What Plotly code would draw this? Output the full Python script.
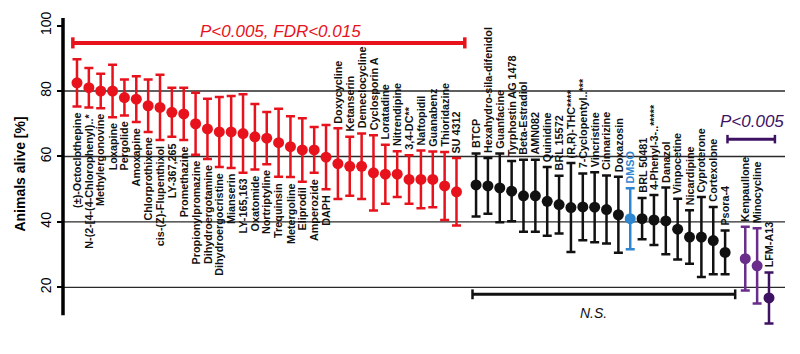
import plotly.graph_objects as go

# ---------------- data ----------------
red_names = ["(±)-Octoclothepine", "N-(2-[4-(4-Chlorophenyl)..*", "Methylergonovine", "Loxapine",
             "Pergolide", "Amoxapine", "Chlorprothixene", "cis-(Z)-Flupenthixol", "LY-367,265",
             "Promethazine", "Propionylpromazine", "Dihydroergotamine", "Dihydroergocristine",
             "Mianserin", "LY-165,163", "Oxatomide", "Nortriptyline", "Trequinsin", "Metergoline",
             "Eliprodil", "Amperozide", "DAPH", "Doxycycline", "Ketanserin", "Demeclocycline",
             "Cyclosporin A", "Loratadine", "Nitrendipine", "3,4-DC**", "Naftopidil", "Guanabenz",
             "Thioridazine", "SU 4312"]
red_means = [82.5, 81, 80, 80, 78, 77.5, 75.5, 75, 73.5, 73, 70, 68.4, 67.5, 67.5, 67, 66, 65.6,
             64.2, 63, 62, 62, 59.8, 57.8, 57, 57, 55, 54.6, 54.6, 53, 53, 53, 51, 49.2]
red_errs = [7.2, 6, 5.3, 8, 5.5, 7, 8, 10, 7.5, 8, 9.5, 9.2, 10.7, 11, 12, 10, 8, 10.4, 9.3, 9.7,
            7, 9.8, 10.8, 9, 10, 11.5, 9, 7, 7.4, 8.8, 8.5, 10.4, 10.3]
red_label_above_from = 22  # labels of red items from this index on sit above the bars

black_names = ["BTCP", "Hexahydro-sila-difenidol", "Guanfacine", "Tyrphostin AG 1478",
               "Beta-Estradiol", "AMN082", "Quinidine", "BRL 15572", "(R,R)-THC****",
               "7-Cyclopentyl..***", "Vincristine", "Cinnarizine", "Doxazosin", "DMSO",
               "BRL 50481", "4-Phenyl-3-..*****", "Danazol", "Vinpocetine", "Nicardipine",
               "Cyproterone", "Cortexolone", "Psora-4"]
black_means = [51.3, 51, 50.4, 49.4, 48, 48, 46.3, 45.3, 44.4, 44.6, 44.5, 43.8, 42.2, 41,
               41, 40.6, 40.3, 37.8, 35.4, 35.4, 34.3, 30.7]
black_errs = [9.6, 8.5, 10.5, 9.2, 11, 11, 10.5, 8.8, 13.6, 10.2, 10.7, 10.4, 11.6, 9.3,
              6.3, 7.6, 10.2, 9.3, 8.2, 12.2, 10.3, 6.7]
control_name = "DMSO"

purple_names = ["Kenpaullone", "Minocycline", "LFM-A13"]
purple_means = [28.8, 26.6, 16.8]
purple_errs = [9.7, 11.5, 7.8]

y_ticks = [20, 40, 60, 80, 100]
grid_vals = [20, 40, 60, 80]

# ---------------- styling ----------------
RED = "#e8121c"
BLACK = "#111111"
BLUE = "#2f86d0"
PURPLE_L = "#6a2d8c"
PURPLE_D = "#3e1263"
GAP1 = 1.65
GAP2 = 1.7
FONT = "Liberation Sans, Arial"

red_x = list(range(len(red_names)))
black_start = red_x[-1] + GAP1
black_x = [black_start + i for i in range(len(black_names))]
purple_start = black_x[-1] + GAP2
purple_x = [purple_start + i for i in range(len(purple_names))]

fig = go.Figure()


def add_trace(xs, ys, es, color):
    fig.add_trace(go.Scatter(
        x=xs, y=ys, mode="markers",
        marker=dict(size=11, color=color),
        error_y=dict(type="data", array=es, visible=True, color=color, thickness=2.5, width=4.5),
        showlegend=False, hoverinfo="skip"))


add_trace(red_x, red_means, red_errs, RED)
bx = [x for x, n in zip(black_x, black_names) if n != control_name]
bm = [m for m, n in zip(black_means, black_names) if n != control_name]
be = [e for e, n in zip(black_errs, black_names) if n != control_name]
add_trace(bx, bm, be, BLACK)
ci = black_names.index(control_name)
add_trace([black_x[ci]], [black_means[ci]], [black_errs[ci]], BLUE)
add_trace(purple_x[:2], purple_means[:2], purple_errs[:2], PURPLE_L)
add_trace(purple_x[2:], purple_means[2:], purple_errs[2:], PURPLE_D)

annotations = []


def label(x, text, m, e, above, color=BLACK):
    annotations.append(dict(
        x=x, y=(m + e) if above else (m - e), xref="x", yref="y",
        text="<b>%s</b>" % text, textangle=-90, showarrow=False,
        xanchor="center", yanchor="bottom" if above else "top",
        yshift=3 if above else -4, font=dict(family=FONT, size=10.8, color=color)))


for i, (x, n, m, e) in enumerate(zip(red_x, red_names, red_means, red_errs)):
    label(x, n, m, e, i >= red_label_above_from)
for x, n, m, e in zip(black_x, black_names, black_means, black_errs):
    label(x, n, m, e, True, BLUE if n == control_name else BLACK)
for x, n, m, e in zip(purple_x, purple_names, purple_means, purple_errs):
    label(x, n, m, e, True)

shapes = []
for g in grid_vals:
    shapes.append(dict(type="line", xref="paper", yref="y", x0=0, x1=1, y0=g, y1=g,
                       line=dict(color="#2a2a2a", width=1.3), layer="below"))
# y axis line
shapes.append(dict(type="line", xref="paper", yref="y", x0=0, x1=0, y0=11.5, y1=102.3,
                   line=dict(color="black", width=3.5)))


def bracket(x0, x1, y, color, w, cap):
    shapes.append(dict(type="line", xref="x", yref="y", x0=x0, x1=x1, y0=y, y1=y,
                       line=dict(color=color, width=w)))
    for xx in (x0, x1):
        shapes.append(dict(type="line", xref="x", yref="y", x0=xx, x1=xx,
                           y0=y - cap, y1=y + cap, line=dict(color=color, width=w - 0.5)))


bracket(red_x[0] - 0.35, red_x[-1] + 0.7, 94.7, RED, 4, 1.7)
annotations.append(dict(x=(red_x[0] + red_x[-1]) / 2 + 1.2, y=98.2, xref="x", yref="y",
                        text="<i>P<0.005, FDR<0.015</i>", showarrow=False,
                        font=dict(family=FONT, size=17, color=RED)))
bracket(purple_x[0] - 1.5, purple_x[-1] + 0.5, 65.3, PURPLE_D, 3, 1.3)
annotations.append(dict(x=(purple_x[0] + purple_x[-1]) / 2 - 0.4, y=70.6, xref="x", yref="y",
                        text="<i>P<0.005</i>", showarrow=False,
                        font=dict(family=FONT, size=17, color=PURPLE_D)))
bracket(black_x[0] - 0.3, black_x[-1] + 0.85, 17.9, BLACK, 3, 1.5)
annotations.append(dict(x=(black_x[0] + black_x[-1]) / 2 - 0.6, y=12.3, xref="x", yref="y",
                        text="<i>N.S.</i>", showarrow=False,
                        font=dict(family=FONT, size=14, color=BLACK)))

fig.update_layout(
    width=800, height=354,
    margin=dict(l=63, r=15, t=18, b=24),
    paper_bgcolor="white", plot_bgcolor="white",
    xaxis=dict(range=[-1.18, 59.7], visible=False),
    yaxis=dict(range=[7, 102.3], tickvals=y_ticks, ticks="outside", ticklen=5, tickwidth=2,
               tickcolor="black", tickangle=-90, showgrid=False, zeroline=False, showline=False,
               tickfont=dict(family=FONT, size=14, color="black"),
               title=dict(text="<b>Animals alive [%]</b>", standoff=9,
                          font=dict(family=FONT, size=14, color="black"))),
    shapes=shapes, annotations=annotations,
)

fig.write_html("out.html")
